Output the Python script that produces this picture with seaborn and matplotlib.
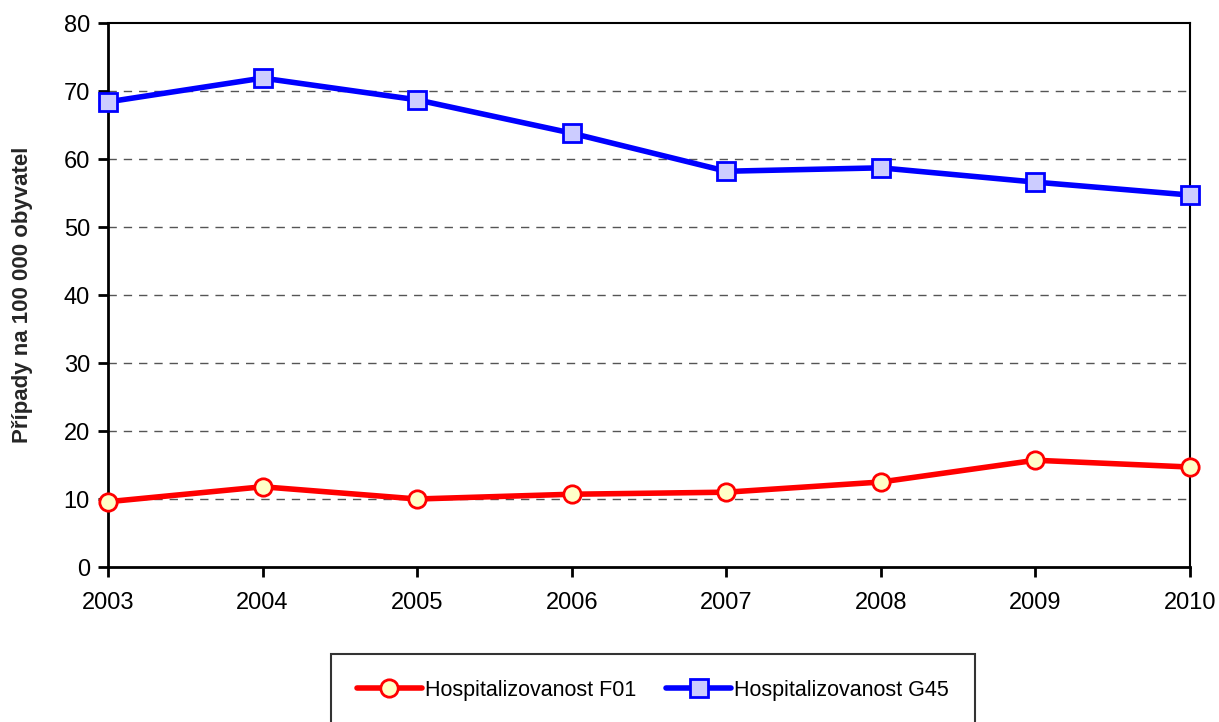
import matplotlib
matplotlib.use("Agg")
import pandas as pd
import seaborn as sns
import matplotlib.pyplot as plt

# values
years = [2003, 2004, 2005, 2006, 2007, 2008, 2009, 2010]
f01 = [9.6, 11.8, 10.0, 10.7, 11.0, 12.5, 15.7, 14.7]
g45 = [68.4, 71.9, 68.7, 63.8, 58.2, 58.7, 56.6, 54.7]
series_names = ["Hospitalizovanost F01", "Hospitalizovanost G45"]
y_label = "Případy na 100 000 obyvatel"

sns.set_style("white")
plt.rcParams["font.family"] = ["Liberation Sans", "DejaVu Sans"]
plt.rcParams["text.color"] = "black"

fig = plt.figure(figsize=(12.19, 7.22), dpi=100)
ax = fig.add_axes([108 / 1219, 1 - 567 / 722, (1190 - 108) / 1219, (567 - 23) / 722])

sns.lineplot(x=years, y=f01, ax=ax, color="#FF0000", linewidth=4,
             marker="o", markersize=12.5, markerfacecolor="#FFFFC8",
             markeredgecolor="#FF0000", markeredgewidth=2, label=series_names[0],
             clip_on=False, zorder=5)
sns.lineplot(x=years, y=g45, ax=ax, color="#0000FF", linewidth=4,
             marker="s", markersize=12.5, markerfacecolor="#CCCCFF",
             markeredgecolor="#0000FF", markeredgewidth=2, label=series_names[1],
             clip_on=False, zorder=5)

ax.set_xlim(2003, 2010)
ax.set_ylim(0, 80)
ax.set_xticks(years)
ax.set_yticks(range(0, 81, 10))
for y in range(10, 80, 10):
    ax.axhline(y, color="#555555", linewidth=1, linestyle=(0, (6, 5)), zorder=0)

for side in ["left", "bottom"]:
    ax.spines[side].set_linewidth(2)
for side in ["top", "right"]:
    ax.spines[side].set_linewidth(1.5)
for s in ax.spines.values():
    s.set_color("black")
    s.set_zorder(3)

ax.tick_params(axis="both", direction="out", length=7, width=2, labelsize=17,
               colors="black", pad=6, left=True, bottom=True)
ax.tick_params(axis="x", pad=11)
ax.set_xlabel("")
ax.set_ylabel(y_label, fontsize=16, fontweight="bold", labelpad=22)

ax.get_legend().remove()
h, l = ax.get_legend_handles_labels()
leg = fig.legend(h, l, loc="center", ncol=2, bbox_to_anchor=(0.5357, 0.044),
                 fontsize=15.5, frameon=True, fancybox=False, edgecolor="black",
                 borderpad=1.2, handlelength=3.0, handletextpad=0.15,
                 columnspacing=1.4)
leg.get_frame().set_linewidth(1.5)
for t in leg.get_texts():
    t.set_color("black")

fig.savefig("out.png", dpi=100)
